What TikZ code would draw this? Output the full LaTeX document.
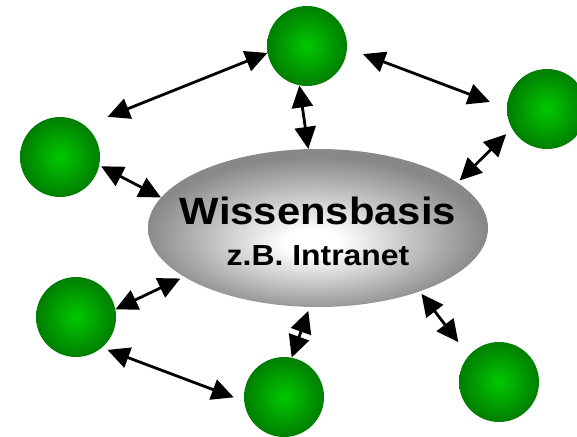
\documentclass[tikz,border=0pt]{standalone}
\usepackage{fontspec}
\setmainfont{Liberation Sans}
\usetikzlibrary{arrows.meta,shapes.geometric}

\definecolor{ballhi}{RGB}{0,200,0}
\definecolor{balllo}{RGB}{0,126,0}
\definecolor{kbgray}{RGB}{136,136,136}

\pgfdeclareradialshading{ballshade}{\pgfpoint{0bp}{0bp}}{color(0bp)=(ballhi); color(25bp)=(balllo); color(50bp)=(balllo)}
\pgfdeclareradialshading{kbshade}{\pgfpoint{-1bp}{-5bp}}{color(0bp)=(white); color(4bp)=(white); color(25bp)=(kbgray); color(50bp)=(kbgray)}

\tikzset{
  ball/.style={circle, minimum size=80pt, inner sep=0pt, shade, shading=ballshade},
  kbnode/.style={ellipse, minimum width=340pt, minimum height=158pt, inner sep=0pt,
    shade, shading=kbshade, align=center, font=\bfseries\fontsize{29}{41.7}\selectfont},
  link/.style={{Triangle[length=22pt,width=21pt]}-{Triangle[length=22pt,width=21pt]},
    line width=2.8pt, black}
}

\begin{document}
\begin{tikzpicture}[x=1pt, y=-1pt]
    \useasboundingbox (0,0) rectangle (577,436);

    % Knowledge base in the middle
    \node[kbnode] (kb) at (318,228) {%
      \makebox[0pt]{\rule{0pt}{34pt}\scalebox{1.1}[1]{\fontsize{38}{38}\selectfont Wissensbasis}}\\
      \makebox[0pt]{\scalebox{1.1}[1]{z.B. Intranet}}};

    % Members around it
    \node[ball] (top) at (307,46) {};
    \node[ball] (right) at (547,109) {};
    \node[ball] (left) at (60,157) {};
    \node[ball] (lowleft) at (76,317) {};
    \node[ball] (bottom) at (284,397) {};
    \node[ball] (lowright) at (499,382) {};

    % Links between members
    \draw[link, shorten <=24pt] (left.51) -- (top.190);
    \draw[link, shorten <=17pt, shorten >=18pt] (top.-3) -- (right.179);
    \draw[link, shorten <=6pt, shorten >=11pt] (lowleft.-50) -- (bottom.186);

    % Links to the knowledge base
    \draw[link] (top.259) -- (kb.97);
    \draw[link, shorten <=8pt, shorten >=3pt] (right.209) -- (kb.18);
    \draw[link, shorten <=2pt] (left.-12) -- (kb.169);
    \draw[link, shorten >=4pt] (lowleft.11) -- (kb.200);
    \draw[link, shorten <=4pt] (kb.-96) -- (bottom.79);
    \draw[link, shorten <=3pt, shorten >=17pt] (kb.-32) -- (lowright.139);
\end{tikzpicture}
\end{document}
